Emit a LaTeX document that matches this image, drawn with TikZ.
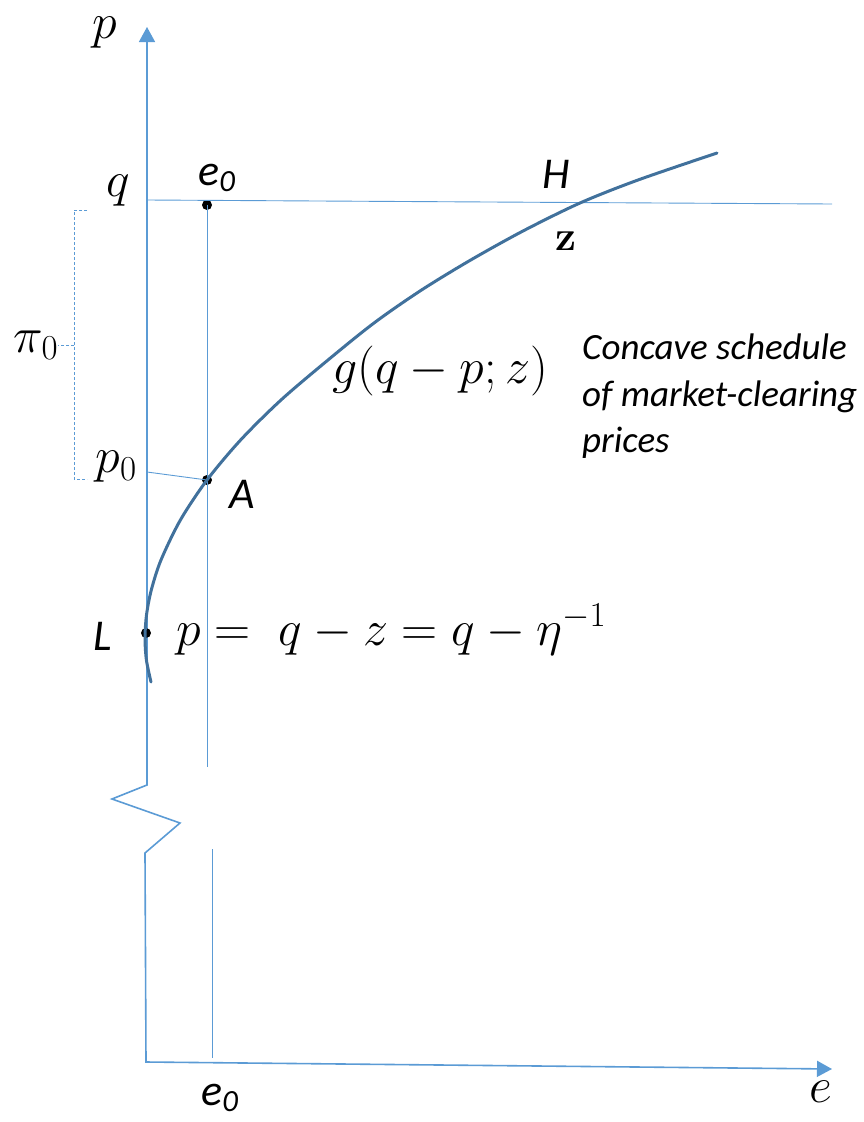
\documentclass[tikz,border=0pt]{standalone}
\usepackage{fix-cm}
\usepackage{fontspec}
\setsansfont{Carlito}
\usetikzlibrary{arrows.meta}
\definecolor{axisblue}{RGB}{91,155,213}
\definecolor{curveblue}{RGB}{65,113,156}
\tikzset{axisline/.style={draw=axisblue,line width=1.6pt},
  guide/.style={draw=axisblue,line width=0.9pt},
  bracket/.style={draw=axisblue,line width=0.8pt,densely dashed},
  dot/.style={circle,fill=black,inner sep=0pt,minimum size=10pt},
  mathlbl/.style={inner sep=0pt,font=\fontsize{50}{56}\selectfont},
  sanslbl/.style={inner sep=0pt,font=\fontsize{44}{50}\selectfont\sffamily\itshape}
}

\begin{document}
\begin{tikzpicture}[x=1pt,y=-1pt]
  \useasboundingbox (0,0) rectangle (863,1122);

  % Axes
    \coordinate (ptip) at (147,27);
    \coordinate (brk1) at (147,785);
    \coordinate (brk2) at (112,799);
    \coordinate (brk3) at (180,823);
    \coordinate (brk4) at (145,853);
    \coordinate (O) at (146,1062);
    \coordinate (etip) at (832,1069);
    \draw[axisline,{Triangle[length=15pt,width=16pt]}-{Triangle[length=15pt,width=16pt]}]
      (ptip) -- (brk1) -- (brk2) -- (brk3) -- (brk4) -- (O) -- (etip);

    % Points
    \node[dot] (E) at (207,205) {};
    \node[dot] (A) at (207,480) {};
    \node[dot] (L) at (146,633) {};

    % Guides
    \coordinate (qleft) at (147,200);
    \coordinate (qright) at (832,204);
    \coordinate (p0left) at (147,472);
    \coordinate (e0top) at (207,767);
    \coordinate (e0low) at (212,849);
    \coordinate (e0bot) at (212,1058);
    \draw[guide] (qleft) -- (qright);
    \draw[guide] (E.center) -- (e0top);
    \draw[guide] (e0low) -- (e0bot);
    \draw[guide] (p0left) -- (A.center);

    % Curve
    \draw[curveblue,line width=3pt,line cap=round] plot[smooth] coordinates {(717,153) (638,180) (580,203)
      (523,231) (469,261) (420,291) (374,323) (328,360) (281,400) (240.6,440) (A.center)
      (180.4,520) (161,560) (151.3,590) (146.5,615) (145,638) (146.4,660) (151,682)};

    % Labels
    \node[mathlbl] (plbl) at (105,33) {$p$};
    \node[mathlbl] (qlbl) at (118,191) {$q$};
    \node[sanslbl] (e0up) at (217,178) {e\textsubscript{0}};
    \node[sanslbl] (Hlbl) at (556,174) {H};
    \node[inner sep=0pt,font=\fontsize{42}{46}\selectfont\bfseries] (zlbl) at (566,241) {z};
    \node[mathlbl] (pi0) at (36,345) {$\pi_0$};
    \node[mathlbl] (glbl) at (440,371) {$g(q-p;z)$};
    \node[sanslbl,font=\fontsize{37}{46.5}\selectfont\sffamily\itshape,anchor=north west,align=left]
      (concave) at (582,334) {Concave schedule\\of market-clearing\\prices};
    \node[mathlbl] (p0lbl) at (116,467) {$p_0$};
    \node[sanslbl] (Albl) at (242,494) {A};
    \node[sanslbl] (Llbl) at (103,636) {L};
    \node[mathlbl,anchor=base west] (eqlbl) at (176,645) {$p=\;q-z=q-\eta^{-1}$};
    \node[mathlbl] (elbl) at (821,1092) {$e$};
    \node[sanslbl] (e0dn) at (220,1098) {e\textsubscript{0}};

    % Bracket
    \coordinate (bktop) at (87,210);
    \coordinate (bktopc) at (74,210);
    \coordinate (bkbotc) at (74,479);
    \coordinate (bkbot) at (87,479);
    \coordinate (bkmid) at (74,345);
    \draw[bracket] (bktop) -- (bktopc) -- (bkbotc) -- (bkbot);
    \draw[bracket] (bkmid) -- (pi0.east);

  \end{tikzpicture}
\end{document}
